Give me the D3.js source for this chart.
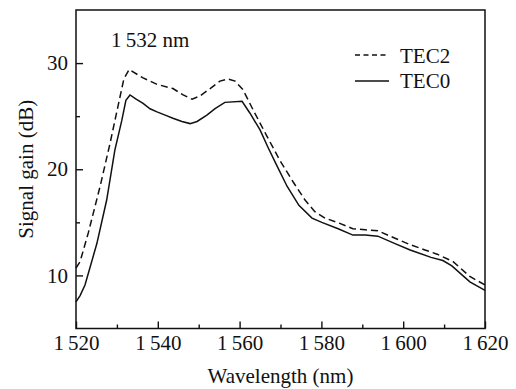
<!DOCTYPE html>
<html>
<head>
<meta charset="utf-8">
<script src="https://cdn.jsdelivr.net/npm/d3@7"></script>
<style>
  body { margin: 0; background: #fff; }
  svg text { font-family: "Liberation Serif", "Times New Roman", serif; fill: #111; }
</style>
</head>
<body>
<svg id="chart"></svg>
<script>
// wavelength (nm) / gain (dB)
const tec2Wl = [1520, 1521, 1523, 1525.9, 1528.3, 1530.3, 1531.7, 1533, 1536.4, 1539.8, 1543.7, 1546.2,
  1548.4, 1550.3, 1552.8, 1555.2, 1557.2, 1558.9, 1560.8, 1563.3, 1566.7, 1569.9, 1573.1, 1576,
  1578.4, 1580.9, 1584.5, 1587.7, 1590.7, 1593.8, 1598, 1601.7, 1605.3, 1608.3, 1612.2, 1616.3, 1620];
const tec2Gain = [10.7, 11.3, 14.0, 18.4, 22.4, 26.0, 28.5, 29.4, 28.6, 28.0, 27.6, 27.0,
  26.6, 26.9, 27.6, 28.3, 28.5, 28.3, 27.5, 25.6, 23.1, 20.8, 18.8, 17.1,
  16.0, 15.4, 14.9, 14.4, 14.3, 14.2, 13.5, 12.9, 12.4, 12.0, 11.3, 9.9, 9.1];

const tec0Wl = [1520, 1521, 1522.2, 1525.1, 1527.5, 1529.5, 1531.2, 1532.2, 1533.2, 1534.7, 1536.4,
  1538.1, 1539.8, 1541.8, 1543.7, 1545.9, 1547.9, 1549.6, 1552, 1554, 1556.4, 1560.6, 1562.5,
  1565, 1566.9, 1568.9, 1571.6, 1574.5, 1577.7, 1580.1, 1584.1, 1587.7, 1590.7, 1593.8, 1598,
  1601.7, 1606.8, 1609.7, 1611.9, 1616.3, 1620];
const tec0Gain = [7.5, 8.1, 9.1, 13.0, 17.1, 21.8, 24.6, 26.5, 27.0, 26.6, 26.2,
  25.7, 25.4, 25.1, 24.8, 24.5, 24.3, 24.5, 25.1, 25.7, 26.3, 26.4, 25.3,
  23.7, 22.1, 20.5, 18.4, 16.6, 15.4, 15.0, 14.4, 13.8, 13.8, 13.7, 13.0,
  12.4, 11.7, 11.4, 10.9, 9.4, 8.6];

const xMajor = [1520, 1540, 1560, 1580, 1600, 1620];
const xMinor = [1530, 1550, 1570, 1590, 1610];
const yMajor = [10, 20, 30];
const yMinor = [15, 25];

const width = 516, height = 389;
const margin = {top: 10, right: 31, bottom: 60.5, left: 76};
const w = width - margin.left - margin.right;
const h = height - margin.top - margin.bottom;

const svg = d3.select('#chart').attr('width', width).attr('height', height);
const g = svg.append('g').attr('transform', `translate(${margin.left},${margin.top})`);

const x = d3.scaleLinear().domain([1520, 1620]).range([0, w]);
const y = d3.scaleLinear().domain([5, 35]).range([h, 0]);

const fmtX = d => { const s = String(d); return s[0] + '\u2009' + s.slice(1); };

// axes, ticks pointing inward
const xAxisG = g.append('g').attr('transform', `translate(0,${h})`)
  .call(d3.axisBottom(x).tickValues(xMajor).tickFormat(fmtX).tickSize(-7).tickSizeOuter(0).tickPadding(7));
g.append('g').attr('transform', `translate(0,${h})`)
  .call(d3.axisBottom(x).tickValues(xMinor).tickFormat('').tickSize(-4).tickSizeOuter(0));
const yAxisG = g.append('g')
  .call(d3.axisLeft(y).tickValues(yMajor).tickSize(-7).tickSizeOuter(0).tickPadding(8));
g.append('g')
  .call(d3.axisLeft(y).tickValues(yMinor).tickFormat('').tickSize(-4).tickSizeOuter(0));

g.selectAll('.domain').remove();
g.selectAll('.tick line').attr('stroke', '#111').attr('stroke-width', 1.4);
g.selectAll('.tick text').attr('font-size', 21).attr('fill', '#111')
  .style('font-family', '"Liberation Serif", "Times New Roman", serif');

// frame
g.append('rect').attr('width', w).attr('height', h)
  .attr('fill', 'none').attr('stroke', '#111').attr('stroke-width', 1.5);

const line = d3.line().x(d => x(d[0])).y(d => y(d[1]));

g.append('path').datum(d3.zip(tec2Wl, tec2Gain))
  .attr('d', line).attr('fill', 'none').attr('stroke', '#111')
  .attr('stroke-width', 1.5).attr('stroke-dasharray', '7,4');

g.append('path').datum(d3.zip(tec0Wl, tec0Gain))
  .attr('d', line).attr('fill', 'none').attr('stroke', '#111')
  .attr('stroke-width', 1.5);

// annotation
svg.append('text').attr('x', 111).attr('y', 47).attr('font-size', 21).text('1\u2009532 nm');

// legend
svg.append('line').attr('x1', 355).attr('x2', 389).attr('y1', 55).attr('y2', 55)
  .attr('stroke', '#111').attr('stroke-width', 1.4).attr('stroke-dasharray', '5,3.5');
svg.append('text').attr('x', 400).attr('y', 63).attr('font-size', 21).text('TEC2');
svg.append('line').attr('x1', 355).attr('x2', 389).attr('y1', 81).attr('y2', 81)
  .attr('stroke', '#111').attr('stroke-width', 1.4);
svg.append('text').attr('x', 400).attr('y', 88).attr('font-size', 21).text('TEC0');

// axis titles
svg.append('text').attr('x', margin.left + w / 2).attr('y', 383)
  .attr('text-anchor', 'middle').attr('font-size', 21).text('Wavelength (nm)');
svg.append('text').attr('transform', `translate(33,${margin.top + h / 2}) rotate(-90)`)
  .attr('text-anchor', 'middle').attr('font-size', 21).text('Signal gain (dB)');
</script>
</body>
</html>
